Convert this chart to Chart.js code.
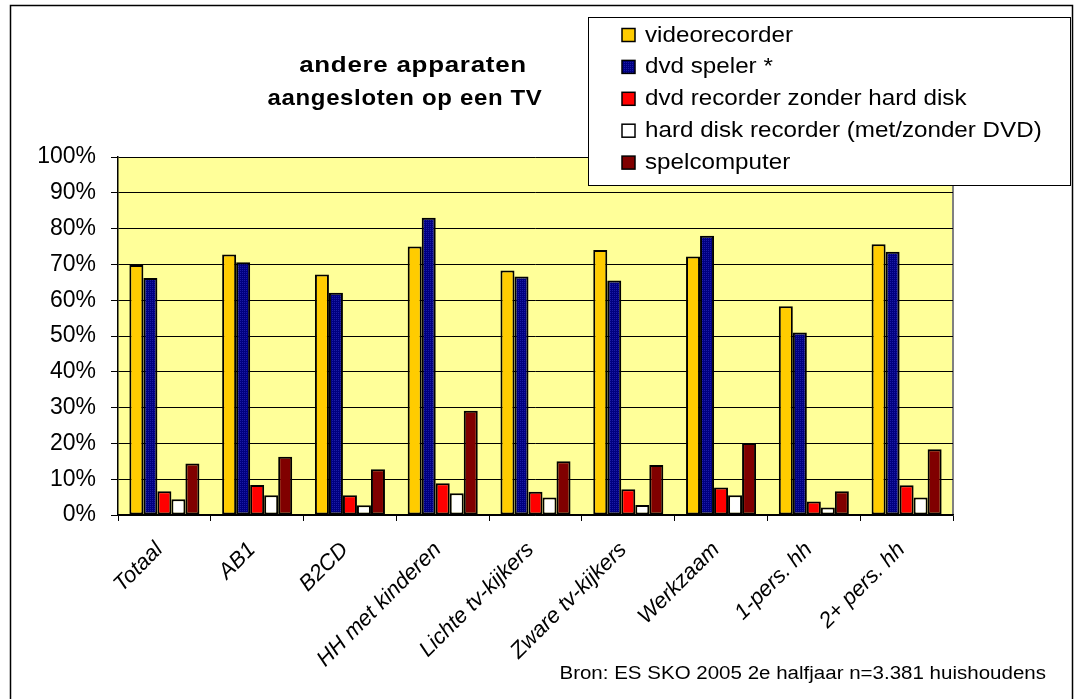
<!DOCTYPE html>
<html>
<head>
<meta charset="utf-8">
<script src="https://cdn.jsdelivr.net/npm/chart.js@4.4.1/dist/chart.umd.min.js"></script>
<style>
  html, body { margin: 0; padding: 0; background: #fff; }
  canvas { display: block; }
</style>
</head>
<body>
<canvas id="chart" width="1077" height="699"></canvas>
<script>
// data (percent)
const categories = ["Totaal", "AB1", "B2CD", "HH met kinderen", "Lichte tv-kijkers", "Zware tv-kijkers", "Werkzaam", "1-pers. hh", "2+ pers. hh"];
const seriesNames = ["videorecorder", "dvd speler *", "dvd recorder zonder hard disk", "hard disk recorder (met/zonder DVD)", "spelcomputer"];
const videorecorder = [69.8, 72.8, 67.2, 75.0, 68.3, 74.0, 72.2, 58.3, 75.6];
const dvdSpeler = [66.2, 70.6, 62.1, 83.0, 66.6, 65.5, 78.0, 51.0, 73.5];
const dvdRecorder = [6.6, 8.4, 5.5, 8.9, 6.5, 7.2, 7.7, 3.8, 8.3];
const hardDisk = [4.4, 5.5, 2.7, 6.1, 4.9, 2.8, 5.5, 2.1, 4.9];
const spelcomputer = [14.4, 16.3, 12.8, 29.1, 15.0, 14.0, 20.1, 6.6, 18.4];
const titleLines = ["andere apparaten", "aangesloten op een TV"];
const sourceNote = "Bron: ES SKO 2005 2e halfjaar n=3.381 huishoudens";

const FONT = "'Liberation Sans', Arial, sans-serif";

// navy with a fine dot texture, like the Excel fill
const navyPattern = (() => {
  const c = document.createElement("canvas");
  c.width = 2; c.height = 2;
  const g = c.getContext("2d");
  g.fillStyle = "#000080";
  g.fillRect(0, 0, 2, 2);
  g.fillStyle = "#1c1ca6";
  g.fillRect(0, 0, 1, 1);
  return g.createPattern(c, "repeat");
})();

const colors = ["#FFCC00", navyPattern, "#FF0000", "#FFFFFF", "#800000"];
const seriesData = [videorecorder, dvdSpeler, dvdRecorder, hardDisk, spelcomputer];

const frame = {
  id: "frame",
  beforeDraw(chart) {
    const { ctx, chartArea: a } = chart;
    ctx.save();
    ctx.fillStyle = "#fff";
    ctx.fillRect(0, 0, chart.width, chart.height);
    ctx.fillStyle = "#FFFF99";
    ctx.fillRect(a.left, a.top, a.right - a.left, a.bottom - a.top);
    ctx.strokeStyle = "#808080";
    ctx.lineWidth = 2;
    ctx.beginPath();
    ctx.moveTo(a.right, a.top);
    ctx.lineTo(a.right, a.bottom);
    ctx.stroke();
    ctx.restore();
  },
  afterDraw(chart) {
    const ctx = chart.ctx;
    ctx.save();

    // title
    ctx.fillStyle = "#000";
    ctx.font = "bold 22px " + FONT;
    ctx.textAlign = "center";
    ctx.textBaseline = "middle";
    ctx.letterSpacing = "0.6px";
    [66, 99].forEach((y, i) => {
      ctx.save();
      ctx.translate(i === 0 ? 413 : 405, y);
      ctx.scale(i === 0 ? 1.18 : 1.09, 1);
      ctx.fillText(titleLines[i], 0, 0);
      ctx.restore();
    });
    ctx.letterSpacing = "0px";

    // legend box
    ctx.fillStyle = "#fff";
    ctx.fillRect(588, 17, 482, 168);
    ctx.strokeStyle = "#000";
    ctx.lineWidth = 1;
    ctx.strokeRect(588.5, 17.5, 482, 168);
    ctx.font = "22px " + FONT;
    ctx.textAlign = "left";
    chart.data.datasets.forEach((ds, i) => {
      const cy = 35.5 + i * 31.9;
      ctx.fillStyle = ds.backgroundColor;
      ctx.fillRect(622, cy - 7, 13, 13);
      ctx.strokeStyle = "#000";
      ctx.lineWidth = 1.5;
      ctx.strokeRect(622, cy - 7, 13, 13);
      ctx.fillStyle = "#000";
      ctx.save();
      ctx.translate(645, cy);
      ctx.scale(1.1, 1);
      ctx.fillText(ds.label, 0, 0);
      ctx.restore();
    });

    // source note
    ctx.font = "18px " + FONT;
    ctx.textAlign = "right";
    ctx.textBaseline = "alphabetic";
    ctx.save();
    ctx.translate(1046, 679);
    ctx.scale(1.14, 1);
    ctx.fillText(sourceNote, 0, 0);
    ctx.restore();

    // outer border
    ctx.strokeStyle = "#000";
    ctx.lineWidth = 1.5;
    ctx.strokeRect(10.5, 5.5, 1062, 710);
    ctx.restore();
  }
};

new Chart(document.getElementById("chart"), {
  type: "bar",
  data: {
    labels: categories,
    datasets: seriesData.map((d, i) => ({
      label: seriesNames[i],
      data: d,
      backgroundColor: colors[i],
      borderColor: "#000",
      borderWidth: 2,
      borderSkipped: false,
      barPercentage: 1,
      categoryPercentage: 0.755
    }))
  },
  options: {
    responsive: false,
    animation: false,
    layout: { padding: { left: 0, top: 157, right: 124, bottom: 0 } },
    plugins: {
      legend: { display: false },
      title: { display: false },
      tooltip: { enabled: false }
    },
    scales: {
      x: {
        afterFit: (s) => { s.height = 184; },
        grid: { display: true, drawOnChartArea: false, offset: true, color: "#000", tickLength: 6, lineWidth: 1 },
        border: { color: "#000", width: 1.5 },
        ticks: {
          color: "#000",
          minRotation: 45,
          maxRotation: 45,
          autoSkip: false,
          padding: 16,
          labelOffset: -5,
          font: { family: FONT, size: 22, style: "italic" }
        }
      },
      y: {
        min: 0,
        max: 100,
        afterFit: (s) => { s.width = 118; },
        grid: { color: "#000", lineWidth: 1, tickLength: 7 },
        border: { color: "#000", width: 1.5 },
        ticks: {
          stepSize: 10,
          color: "#000",
          padding: 15,
          font: { family: FONT, size: 23 },
          callback: (v) => v + "%"
        }
      }
    }
  },
  plugins: [frame]
});
</script>
</body>
</html>
